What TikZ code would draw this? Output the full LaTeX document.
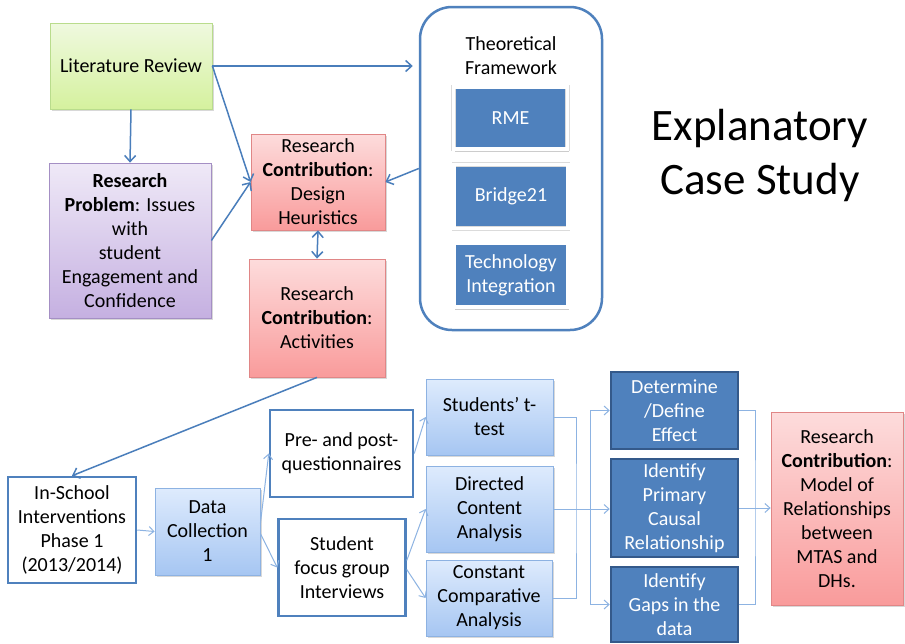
\documentclass[tikz,border=0pt]{standalone}
\usepackage{fontspec}
\setmainfont{Carlito}
\usetikzlibrary{arrows.meta,shadows}

\definecolor{grnT}{HTML}{EFF9DF}
\definecolor{grnB}{HTML}{D5F19E}
\definecolor{grnD}{HTML}{B9DC8C}
\definecolor{purT}{HTML}{EFE9F7}
\definecolor{purB}{HTML}{C5B0E1}
\definecolor{purD}{HTML}{A48FC4}
\definecolor{redT}{HTML}{FDDCDC}
\definecolor{redB}{HTML}{F99B9B}
\definecolor{redD}{HTML}{E08686}
\definecolor{lbT}{HTML}{DEEBFD}
\definecolor{lbB}{HTML}{A6C6F2}
\definecolor{lbD}{HTML}{8DB2E2}
\definecolor{acc}{HTML}{4F81BD}
\definecolor{accD}{HTML}{34598A}
\definecolor{lnk}{HTML}{4A7EBB}
\definecolor{thin}{HTML}{8DB3E2}

\begin{document}
\begin{tikzpicture}[x=1pt,y=-1pt,
  txt/.style={font=\fontsize{20}{24}\selectfont, align=center, inner sep=1pt},
  shad/.style={drop shadow={opacity=0.3, shadow xshift=1.5pt, shadow yshift=-2pt}},
  card/.style={txt, draw, line width=0.8pt, shad},
  litbox/.style={card, top color=grnT, bottom color=grnB, draw=grnD},
  probbox/.style={card, top color=purT, bottom color=purB, draw=purD},
  contrib/.style={card, top color=redT, bottom color=redB, draw=redD},
  datbox/.style={card, top color=lbT, bottom color=lbB, draw=lbD},
  plainbox/.style={txt, draw=acc, fill=white, line width=2.5pt},
  darkbox/.style={txt, text=white, fill=acc, draw=accD, line width=2.5pt},
  frambox/.style={txt, text=white, fill=acc, draw=black!14, line width=0.6pt,
    double=white, double distance=3.2pt,
    drop shadow={opacity=0.4, shadow xshift=1pt, shadow yshift=-2.5pt}},
  link/.style={draw=lnk, line width=1.5pt, -{Straight Barb[length=6pt,width=11pt,line width=1.5pt]}},
  dlink/.style={draw=lnk, line width=1.5pt, {Straight Barb[length=6pt,width=11pt,line width=1.5pt]}-{Straight Barb[length=6pt,width=11pt,line width=1.5pt]}},
  tlink/.style={draw=thin, line width=1pt, -{Straight Barb[length=5pt,width=9pt,line width=1pt]}},
  tline/.style={draw=thin, line width=1pt}
]
\useasboundingbox (0,0) rectangle (905,643);
\fill[white] (0,0) rectangle (905,643);

% upper part: literature, problem, contributions
\node[litbox, minimum width=162pt, minimum height=86pt] (lit) at (131,66) {Literature Review};
\node[probbox, minimum width=162pt, minimum height=155pt] (prob) at (130,240.5)
  {\textbf{Research}\\\textbf{Problem}: Issues\\with\\student\\Engagement and\\Confidence};
\node[contrib, minimum width=134pt, minimum height=96pt] (dh) at (318,182)
  {Research\\\textbf{Contribution}:\\Design\\Heuristics};
\node[contrib, minimum width=136pt, minimum height=118pt] (act) at (317,318)
  {Research\\\textbf{Contribution}:\\Activities};

% theoretical framework panel
\node[draw=acc, line width=2.5pt, rounded corners=32pt, minimum width=182pt, minimum height=323pt] (tf) at (511,168.5) {};
\node[txt, text width=150pt] (tft) at (511,56) {\fontsize{20}{23}\selectfont Theoretical\\Framework};
\node[frambox, minimum width=114pt, minimum height=62pt] (rme) at (510.5,118) {RME};
\node[frambox, minimum width=114pt, minimum height=64pt] (b21) at (511,196.5) {Bridge21};
\node[frambox, minimum width=114pt, minimum height=64pt] (tech) at (511,275) {Technology\\Integration};

\node[font=\fontsize{45}{54}\selectfont, align=center, inner sep=0pt] (title) at (760,155) {Explanatory\\Case Study};

% upper connectors
\draw[link, shorten >=6pt] (lit.east) -- (tf.west |- lit.east);
\draw[link] (lit.east) -- (dh.west);
\draw[link] (lit.south) -- (prob.north);
\draw[link] (prob.east) -- (dh.west);
\draw[link] (tf.west) -- (dh.east);
\draw[dlink] (dh.south) -- (act.north);

% lower part: data collection and analysis
\node[plainbox, minimum width=128pt, minimum height=106pt] (isi) at (72,530)
  {In-School\\Interventions\\Phase 1\\(2013/2014)};
\node[datbox, minimum width=105pt, minimum height=87pt] (dc) at (207.5,531.5) {Data\\Collection\\1};
\node[plainbox, minimum width=143pt, minimum height=87pt] (pq) at (341.5,453.5) {Pre- and post-\\questionnaires};
\node[plainbox, minimum width=127pt, minimum height=97pt] (sf) at (342,567.5) {Student\\focus group\\Interviews};

\node[datbox, minimum width=127pt, minimum height=76pt] (tt) at (489.5,417) {Students’ t-\\test};
\node[datbox, minimum width=127pt, minimum height=86pt] (dca) at (489.5,509) {Directed\\Content\\Analysis};
\node[datbox, minimum width=126pt, minimum height=76pt] (cca) at (489,598) {Constant\\Comparative\\Analysis};

\node[darkbox, minimum width=127pt, minimum height=77pt] (de) at (674.5,410.5) {Determine\\/Define\\Effect};
\node[darkbox, minimum width=127pt, minimum height=98pt] (ip) at (674.5,508) {Identify\\Primary\\Causal\\Relationship};
\node[darkbox, minimum width=127pt, minimum height=75pt] (ig) at (674.5,604.5) {Identify\\Gaps in the\\data};

\node[contrib, minimum width=132pt, minimum height=193pt] (rc) at (837,508.5)
  {Research\\\textbf{Contribution}:\\Model of\\Relationships\\between\\MTAS and\\DHs.};

% lower connectors
\draw[link] (act.south) -- (isi.north);
\draw[tlink] (isi.east) -- (dc.west);
\draw[tlink] ([yshift=8pt]dc.east) -- (pq.west);
\draw[tlink] ([yshift=-2pt]dc.east) -- (sf.west);
\draw[tlink] (pq.east) -- (tt.west);
\draw[tlink] ([yshift=7pt]sf.east) -- (dca.west);
\draw[tlink] ([yshift=-2pt]sf.east) -- (cca.west);

\coordinate (jl) at (576,509);
\coordinate (jr) at (590,509);
\coordinate (jo) at (755,509);
\draw[tline] (tt.east) -| (jl) |- (cca.east);
\draw[tlink] (dca.east) -- (ip.west |- dca.east);
\draw[tlink] (jr) |- (de.west);
\draw[tlink] (jr) |- (ig.west);
\draw[tline] (de.east) -| (jo) |- (ig.east);
\draw[tlink] (ip.east) -- (rc.west |- ip.east);
\end{tikzpicture}
\end{document}
